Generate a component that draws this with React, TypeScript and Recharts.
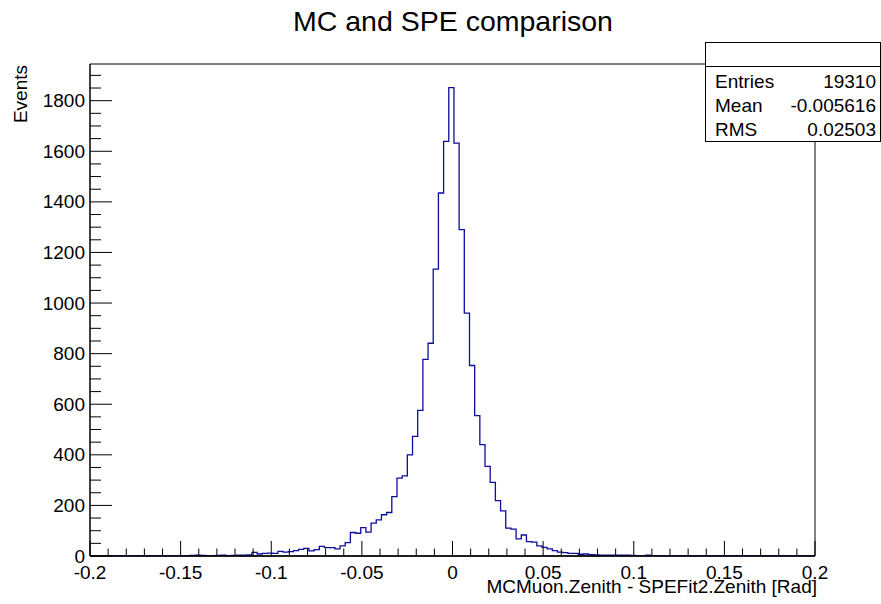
import { LineChart, Line, XAxis, YAxis, ReferenceArea, ReferenceLine } from 'recharts';

const X_MIN = -0.2;
const X_MAX = 0.2;
const Y_MAX = 1945;
const FONT = '"Liberation Sans", Arial, Helvetica, sans-serif';
const LINE_COLOR = '#0d0d9e';

// histogram binning (not aligned with the axis range)
const BIN_LO = -0.1992;
const BIN_W = 0.4 / 140;

// bin contents
const counts = [
  0, 0, 0, 0, 0, 0, 0, 0, 0, 0,
  0, 0, 0, 0, 0, 0, 0, 0, 0, 2,
  3, 2, 0, 0, 2, 3, 0, 2, 3, 3,
  4, 14, 8, 10, 11, 10, 18, 15, 17, 21,
  26, 30, 20, 25, 38, 33, 33, 28, 40, 53,
  93, 90, 112, 94, 130, 143, 163, 172, 235, 308,
  317, 400, 473, 576, 777, 841, 1134, 1435, 1639, 1852,
  1632, 1290, 960, 753, 555, 440, 354, 291, 219, 178,
  110, 106, 68, 83, 57, 55, 40, 34, 28, 21,
  15, 13, 10, 10, 7, 8, 5, 4, 3, 3,
  3, 3, 3, 3, 2, 0, 0, 3, 0, 0,
  0, 0, 0, 0, 0, 0, 0, 0, 0, 0,
  0, 0, 0, 0, 0, 0, 0, 0, 0, 0,
  0, 0, 0, 0, 0, 0, 0, 0, 0, 0,
];

const xMajor = [-0.2, -0.15, -0.1, -0.05, 0, 0.05, 0.1, 0.15, 0.2];
const xMajorLabels = ['-0.2', '-0.15', '-0.1', '-0.05', '0', '0.05', '0.1', '0.15', '0.2'];
const yMajor = [0, 200, 400, 600, 800, 1000, 1200, 1400, 1600, 1800];

const statRows = [
  ['Entries', '19310'],
  ['Mean', '-0.005616'],
  ['RMS', '0.02503'],
];

const data = counts.map((c, i) => ({ x: BIN_LO + i * BIN_W, y: c }));
data.push({ x: X_MAX, y: counts[counts.length - 1] });

const xTicks = Array.from({ length: 41 }, (_, i) => (i - 20) / 100);
const yTicks = Array.from({ length: 39 }, (_, i) => i * 50);

function XTick({ x, y, payload }: any) {
  const idx = xMajor.findIndex((m) => Math.abs(m - payload.value) < 1e-6);
  const major = idx >= 0;
  return (
    <g>
      <line x1={x} x2={x} y1={y} y2={y - (major ? 15 : 7.5)} stroke="#000" />
      {major && (
        <text x={x} y={y + 22.5} textAnchor="middle" fontSize={19} fontFamily={FONT} fill="#000">
          {xMajorLabels[idx]}
        </text>
      )}
    </g>
  );
}

function YTick({ x, y, payload }: any) {
  const major = yMajor.includes(payload.value);
  return (
    <g>
      <line x1={x} x2={x + (major ? 22 : 11)} y1={y} y2={y} stroke="#000" />
      {major && (
        <text x={x - 5} y={y + 6.5} textAnchor="end" fontSize={19} fontFamily={FONT} fill="#000">
          {payload.value}
        </text>
      )}
    </g>
  );
}

export default function App() {
  return (
    <div style={{ position: 'absolute', left: 0, top: 0, width: 881, height: 604, background: '#fff', fontFamily: FONT }}>
      <LineChart width={881} height={604} data={data} margin={{ top: 64, right: 66, bottom: 0, left: 0 }}>
        <XAxis
          type="number"
          dataKey="x"
          domain={[X_MIN, X_MAX]}
          ticks={xTicks}
          interval={0}
          allowDataOverflow
          height={48}
          tickSize={0}
          tickMargin={0}
          tickLine={false}
          axisLine={{ stroke: '#000' }}
          tick={<XTick />}
        />
        <YAxis
          type="number"
          domain={[0, Y_MAX]}
          ticks={yTicks}
          interval={0}
          allowDataOverflow
          width={90}
          tickSize={0}
          tickMargin={0}
          tickLine={false}
          axisLine={{ stroke: '#000' }}
          tick={<YTick />}
        />
        <ReferenceArea x1={X_MIN} x2={X_MAX} y1={0} y2={Y_MAX} fill="none" stroke="#000" strokeWidth={1} />
        <Line
          type="stepAfter"
          dataKey="y"
          stroke={LINE_COLOR}
          strokeWidth={1.3}
          dot={false}
          activeDot={false}
          isAnimationActive={false}
        />
        <ReferenceLine y={0} stroke="#000" strokeWidth={1} />
      </LineChart>
      <svg width={881} height={604} style={{ position: 'absolute', left: 0, top: 0, pointerEvents: 'none' }}>
        <text x={453} y={31} textAnchor="middle" fontSize={28.5} fontFamily={FONT} fill="#000">
          MC and SPE comparison
        </text>
        <text
          x={26.5}
          y={65}
          textAnchor="end"
          fontSize={19}
          fontFamily={FONT}
          fill="#000"
          transform="rotate(-90 26.5 65)"
        >
          Events
        </text>
        <text x={817} y={593} textAnchor="end" fontSize={19} fontFamily={FONT} fill="#000">
          MCMuon.Zenith - SPEFit2.Zenith [Rad]
        </text>
        <rect x={705.5} y={42.5} width={175} height={99} fill="#fff" stroke="#000" />
        <line x1={705.5} x2={881} y1={66.5} y2={66.5} stroke="#000" />
        {statRows.map(([label, value], i) => (
          <g key={label}>
            <text x={715} y={88 + i * 24} fontSize={19} fontFamily={FONT} fill="#000">
              {label}
            </text>
            <text x={876} y={88 + i * 24} textAnchor="end" fontSize={19} fontFamily={FONT} fill="#000">
              {value}
            </text>
          </g>
        ))}
      </svg>
    </div>
  );
}
